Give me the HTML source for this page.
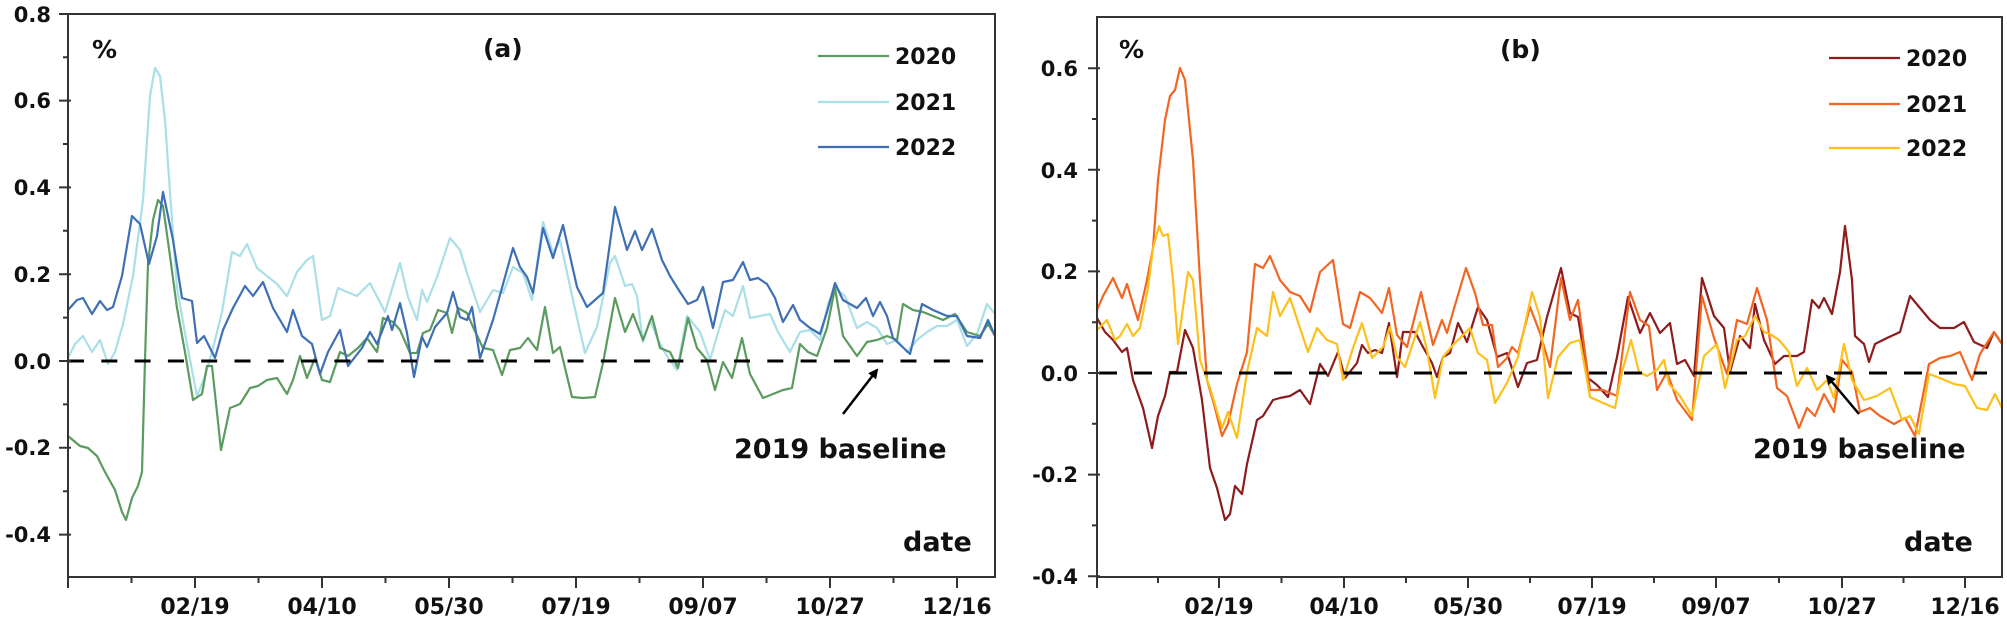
<!DOCTYPE html>
<html><head><meta charset="utf-8"><style>
html,body{margin:0;padding:0;background:#fff;}
svg{display:block;}
text{font-family:"DejaVu Sans","Liberation Sans",sans-serif;font-weight:bold;fill:#111;}
</style></head><body>
<svg width="2007" height="626" viewBox="0 0 2007 626" xmlns="http://www.w3.org/2000/svg">
<defs><marker id="ah" markerWidth="10" markerHeight="10" refX="8" refY="5" orient="auto" markerUnits="userSpaceOnUse"><path d="M0,0 L10,5 L0,10 z" fill="#000"/></marker></defs>

<!-- Panel A -->
<g fill="none" stroke-linejoin="round" stroke-width="2.2">
<polyline stroke="#a9dfe6" points="68,358 75,344 83,336 92,352 100,340 108,364 115,352 123,324 133,276 143,200 150,96 155,68 160,76 165,120 170,192 177,288 187,344 197,396 205,376 213,348 222,312 232,252 240,256 247,244 257,268 267,276 277,284 287,296 297,272 307,260 313,256 322,320 330,316 338,288 347,292 357,296 370,283 385,312 400,263 408,297 417,320 422,290 427,302 437,277 450,238 460,250 467,273 480,312 493,290 503,293 513,267 523,273 532,300 543,222 553,253 560,240 573,300 585,353 597,327 610,263 615,256 625,286 632,284 637,296 643,342 650,320 658,340 667,356 677,370 687,316 700,332 710,360 717,336 725,310 733,316 743,286 750,318 760,316 770,314 778,332 790,352 800,332 810,330 820,340 828,304 835,288 845,296 857,328 867,322 877,328 887,344 897,340 907,352 917,340 927,332 937,326 947,326 957,320 967,346 977,334 987,304 995,314"/>
<polyline stroke="#5b9b5f" points="68,436 80,446 88,448 97,456 105,472 115,490 122,512 126,520 132,498 138,486 142,472 145,360 148,264 153,220 158,200 163,206 170,256 177,308 185,352 193,400 202,394 207,366 212,366 221,450 230,408 240,404 250,388 258,386 267,380 277,378 287,394 293,380 300,356 307,378 315,358 322,380 330,382 340,352 348,356 358,348 367,338 377,352 383,318 393,322 400,330 410,353 417,353 423,333 430,330 438,310 447,313 452,333 458,308 467,313 473,327 483,348 493,350 502,375 510,350 520,348 528,338 537,350 545,307 553,353 560,347 572,397 583,398 595,397 603,363 615,298 625,332 633,314 643,340 652,316 660,348 670,352 678,368 688,318 697,348 707,360 715,390 723,362 732,378 742,338 750,374 763,398 773,394 783,390 792,388 800,344 808,352 817,356 827,328 835,288 843,336 857,356 867,342 877,340 887,336 897,340 903,304 913,310 923,312 933,316 943,320 955,314 967,332 980,336 988,324 995,336"/>
<polyline stroke="#3e6fb5" points="68,310 77,300 83,298 92,314 100,301 107,310 113,307 122,276 132,216 140,224 149,264 157,236 163,192 173,240 182,298 192,301 197,343 204,336 215,358 223,330 233,308 245,286 253,296 263,282 273,308 287,332 293,310 302,336 312,344 320,374 328,352 340,330 348,366 362,348 370,332 377,344 388,316 392,330 400,303 407,333 414,377 422,337 427,347 435,327 447,313 453,292 460,317 467,320 472,307 480,358 493,320 505,277 513,248 520,267 527,277 533,293 543,228 553,258 563,225 577,287 587,307 603,293 615,207 627,250 635,231 642,250 652,229 662,260 670,276 680,292 688,304 697,300 703,287 713,328 723,282 733,280 743,262 750,280 758,278 767,284 775,298 783,322 793,305 800,320 810,328 820,334 827,312 835,283 843,300 857,308 866,298 873,316 880,302 887,316 893,338 910,354 922,304 933,310 947,316 957,316 967,336 980,338 988,320 995,336"/>
</g>
<line x1="68" y1="361" x2="988" y2="361" stroke="#000" stroke-width="3" stroke-dasharray="16 17.3"/>
<rect x="68" y="14" width="927" height="563" fill="none" stroke="#333" stroke-width="2"/>
<path stroke="#333" stroke-width="2" fill="none" d="M59,14H71 M59,100.6H71 M59,187.4H71 M59,274.2H71 M59,361H71 M59,447.8H71 M59,534.6H71 M63,57.2H68 M63,144H68 M63,230.8H68 M63,317.6H68 M63,404.4H68 M63,491.2H68
M68,577V588 M131.5,577V583 M195,577V588 M258.5,577V583 M322,577V588 M385.5,577V583 M449,577V588 M512.5,577V583 M576,577V588 M639.5,577V583 M703,577V588 M766.5,577V583 M830,577V588 M893.5,577V583 M957,577V588"/>
<g font-size="21" text-anchor="end">
<text x="51" y="22">0.8</text><text x="51" y="108">0.6</text><text x="51" y="195">0.4</text><text x="51" y="282">0.2</text><text x="51" y="369">0.0</text><text x="51" y="455">-0.2</text><text x="51" y="542">-0.4</text>
</g>
<g font-size="22" text-anchor="middle">
<text x="195" y="614">02/19</text><text x="322" y="614">04/10</text><text x="449" y="614">05/30</text><text x="576" y="614">07/19</text><text x="703" y="614">09/07</text><text x="830" y="614">10/27</text><text x="957" y="614">12/16</text>
</g>
<text x="92" y="58" font-size="25">%</text>
<text x="483" y="57" font-size="25">(a)</text>
<line x1="818" y1="56" x2="889" y2="56" stroke="#5b9b5f" stroke-width="2.2"/>
<line x1="818" y1="102" x2="889" y2="102" stroke="#a9dfe6" stroke-width="2.2"/>
<line x1="818" y1="147" x2="889" y2="147" stroke="#3e6fb5" stroke-width="2.2"/>
<g font-size="22"><text x="895" y="64">2020</text><text x="895" y="110">2021</text><text x="895" y="155">2022</text></g>
<line x1="843" y1="414" x2="877" y2="370" stroke="#000" stroke-width="2.5" marker-end="url(#ah)"/>
<text x="734" y="458" font-size="27">2019 baseline</text>
<text x="903" y="551" font-size="27">date</text>

<!-- Panel B -->
<g fill="none" stroke-linejoin="round" stroke-width="2.2">
<polyline stroke="#8e1c1c" points="1097,318 1105,332 1113,340 1122,352 1127,348 1133,380 1143,408 1152,448 1158,416 1165,396 1170,372 1177,372 1185,330 1193,348 1202,400 1210,468 1217,488 1225,520 1230,514 1235,486 1242,494 1247,464 1257,420 1263,416 1273,400 1280,398 1290,396 1300,390 1310,404 1320,364 1328,376 1338,352 1345,378 1357,363 1362,345 1368,353 1375,350 1382,353 1389,323 1397,377 1403,332 1415,332 1423,347 1432,363 1437,377 1443,357 1450,353 1458,323 1467,342 1478,307 1487,320 1497,357 1507,353 1518,387 1527,363 1537,360 1547,317 1561,268 1570,313 1578,317 1588,378 1597,385 1608,397 1617,357 1628,297 1640,333 1650,313 1660,333 1670,323 1677,364 1685,360 1694,376 1702,278 1714,316 1724,328 1730,372 1740,336 1750,348 1755,304 1764,340 1775,364 1784,356 1797,356 1804,352 1812,300 1819,308 1824,298 1832,314 1840,272 1845,226 1852,280 1855,336 1864,344 1869,362 1875,344 1887,338 1900,332 1910,296 1920,308 1930,320 1940,328 1954,328 1964,322 1974,342 1987,348 1994,332 2002,344"/>
<polyline stroke="#f26522" points="1097,310 1103,296 1113,278 1122,298 1127,284 1133,304 1138,320 1147,280 1153,248 1158,180 1165,120 1170,96 1175,90 1180,68 1185,80 1193,160 1200,280 1207,380 1215,408 1222,436 1228,424 1237,384 1247,352 1255,264 1263,268 1270,256 1280,280 1290,292 1300,296 1310,312 1320,272 1333,260 1343,324 1350,328 1360,292 1370,298 1382,313 1389,288 1397,335 1407,347 1421,292 1433,345 1442,320 1447,333 1453,312 1466,268 1475,293 1483,325 1492,325 1498,367 1507,358 1512,347 1518,353 1530,307 1540,333 1550,367 1561,278 1570,320 1578,300 1590,390 1603,390 1617,396 1630,292 1640,320 1649,326 1657,390 1667,372 1677,400 1692,420 1702,296 1714,338 1727,374 1737,320 1747,324 1757,288 1767,320 1777,388 1787,396 1799,428 1807,408 1815,416 1824,394 1834,412 1842,360 1852,372 1860,412 1870,408 1880,416 1894,424 1905,418 1915,436 1929,364 1940,358 1950,356 1960,352 1972,380 1980,354 1994,332 2002,344"/>
<polyline stroke="#fdbf1a" points="1097,330 1107,320 1115,340 1120,336 1127,324 1133,336 1140,328 1148,288 1153,248 1159,226 1163,236 1168,234 1173,280 1178,344 1188,272 1193,280 1200,360 1210,388 1222,428 1228,412 1237,438 1247,372 1257,328 1267,336 1273,292 1280,316 1290,298 1300,328 1308,352 1317,328 1327,340 1337,344 1343,380 1353,348 1362,323 1372,358 1383,347 1390,327 1397,357 1405,367 1420,322 1427,350 1435,398 1443,357 1453,345 1463,335 1470,328 1478,353 1487,360 1495,403 1507,383 1518,357 1532,292 1540,317 1548,398 1558,357 1570,343 1580,340 1590,397 1603,403 1615,408 1622,372 1631,340 1639,372 1647,376 1657,370 1664,360 1669,384 1680,396 1692,416 1704,356 1717,344 1725,388 1737,340 1745,336 1755,316 1764,332 1770,334 1779,340 1789,352 1797,386 1807,368 1817,390 1827,380 1834,398 1844,344 1852,380 1864,400 1877,396 1890,388 1902,420 1910,416 1919,434 1929,374 1940,378 1954,384 1965,386 1977,408 1987,410 1995,394 2002,408"/>
</g>
<line x1="1099" y1="373" x2="1987" y2="373" stroke="#000" stroke-width="3" stroke-dasharray="18 17"/>
<rect x="1097" y="17" width="905" height="560" fill="none" stroke="#333" stroke-width="2"/>
<path stroke="#333" stroke-width="2" fill="none" d="M1088,68.2H1100 M1088,169.8H1100 M1088,271.4H1100 M1088,373H1100 M1088,474.6H1100 M1088,576.2H1100 M1092,119H1097 M1092,220.6H1097 M1092,322.2H1097 M1092,423.8H1097 M1092,525.4H1097
M1097,577V588 M1158,577V583 M1219,577V588 M1281.5,577V583 M1344,577V588 M1406,577V583 M1468,577V588 M1530,577V583 M1592,577V588 M1654,577V583 M1716,577V588 M1779,577V583 M1842,577V588 M1903.5,577V583 M1965,577V588"/>
<g font-size="21" text-anchor="end">
<text x="1078" y="76">0.6</text><text x="1078" y="178">0.4</text><text x="1078" y="279">0.2</text><text x="1078" y="381">0.0</text><text x="1078" y="482">-0.2</text><text x="1078" y="584">-0.4</text>
</g>
<g font-size="22" text-anchor="middle">
<text x="1219" y="614">02/19</text><text x="1344" y="614">04/10</text><text x="1468" y="614">05/30</text><text x="1592" y="614">07/19</text><text x="1716" y="614">09/07</text><text x="1842" y="614">10/27</text><text x="1965" y="614">12/16</text>
</g>
<text x="1119" y="58" font-size="25">%</text>
<text x="1500" y="58" font-size="25">(b)</text>
<line x1="1829" y1="58" x2="1900" y2="58" stroke="#8e1c1c" stroke-width="2.2"/>
<line x1="1829" y1="104" x2="1900" y2="104" stroke="#f26522" stroke-width="2.2"/>
<line x1="1829" y1="148" x2="1900" y2="148" stroke="#fdbf1a" stroke-width="2.2"/>
<g font-size="22"><text x="1906" y="66">2020</text><text x="1906" y="112">2021</text><text x="1906" y="156">2022</text></g>
<line x1="1859" y1="414" x2="1827" y2="376" stroke="#000" stroke-width="2.5" marker-end="url(#ah)"/>
<text x="1753" y="458" font-size="27">2019 baseline</text>
<text x="1904" y="551" font-size="27">date</text>
</svg>
</body></html>
